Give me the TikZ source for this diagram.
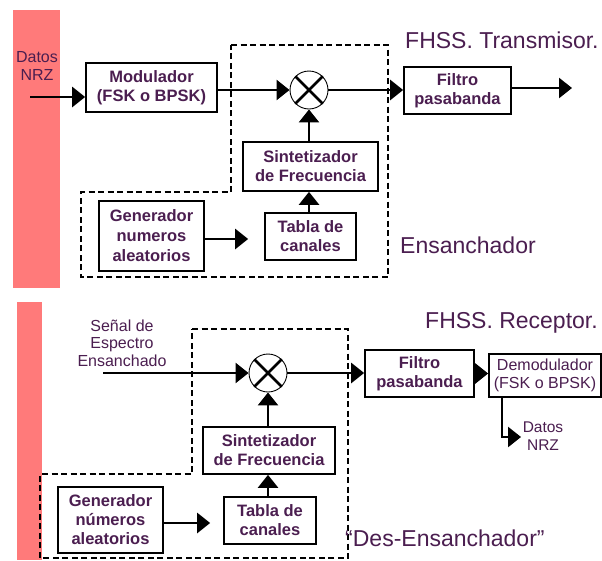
\documentclass[tikz,border=0pt]{standalone}
\usepackage{fontspec}
\setmainfont{Liberation Sans}
\usetikzlibrary{arrows.meta}
\definecolor{txt}{RGB}{75,30,80}
\definecolor{bar}{RGB}{255,122,122}
\begin{document}
\begin{tikzpicture}[x=1pt,y=-1pt,
  blk/.style={draw=black,line width=1.7pt,fill=white,align=center,inner sep=0pt,
    text=txt,font=\bfseries\fontsize{16.5}{19}\selectfont},
  plain/.style={align=center,inner sep=0pt,text=txt,font=\fontsize{16}{17.5}\selectfont},
  title/.style={anchor=west,inner sep=0pt,text=txt,font=\fontsize{23}{26}\selectfont},
  mixer/.style={circle,draw=black,line width=0.9pt,minimum size=38pt,inner sep=0pt},
  sig/.style={line width=2.6pt,-{Triangle[length=13pt,width=20pt]}},
  zone/.style={draw=black,line width=2.2pt,dash pattern=on 6pt off 3.5pt}]
\useasboundingbox (0,0) rectangle (602,560);
\fill[white] (0,0) rectangle (602,560);

% ---------------- transmitter ----------------
\fill[bar] (13,10) rectangle (60,288);
\node[plain] (din) at (37,66) {Datos\\NRZ};
\coordinate (in1) at (30,97);

\draw[zone] (231,45) -- (388,45) -- (388,277) -- (81,277) -- (81,192) -- (231,192) -- cycle;

\node[blk,minimum width=131pt,minimum height=49pt] (mod) at (151.5,87.5) {Modulador\\(FSK o BPSK)};
\node[mixer] (mix1) at (309,90) {};
\draw[line width=2.6pt] (mix1.north west) -- (mix1.south east) (mix1.north east) -- (mix1.south west);
\node[blk,minimum width=107pt,minimum height=47pt] (filt1) at (457.5,90.5) {Filtro\\pasabanda};
\node[blk,minimum width=135pt,minimum height=49pt] (sint1) at (310.5,166.5) {Sintetizador\\de Frecuencia};
\node[blk,minimum width=91pt,minimum height=47pt] (tab1) at (310.5,236.5) {Tabla de\\canales};
\node[blk,minimum width=105pt,minimum height=70pt,font=\bfseries\fontsize{16.5}{20}\selectfont] (gen1) at (151.5,236) {Generador\\numeros\\aleatorios};
\coordinate (out1) at (572,88);

\draw[sig] (in1) -- (in1 -| mod.west);
\draw[sig] (mod.east |- mix1) -- (mix1.west);
\draw[sig] (mix1.east) -- (mix1 -| filt1.west);
\draw[sig] (filt1.east |- out1) -- (out1);
\draw[sig] (sint1.north -| mix1) -- (mix1.south);
\draw[sig] (tab1.north -| mix1) -- (sint1.south -| mix1);
\draw[sig,shorten >=16pt] (gen1.east |- 0,239) -- (tab1.west |- 0,239);

\node[title] (ttx) at (405,40) {FHSS. Transmisor.};
\node[title] (ens) at (400,245) {Ensanchador};

% ---------------- receiver ----------------
\fill[bar] (17,302) rectangle (42,560);
\node[plain] (sin) at (122,343) {Señal de\\Espectro\\Ensanchado};
\coordinate (in2) at (103,373);

\draw[zone] (192,329) -- (348,329) -- (348,558) -- (40,558) -- (40,474) -- (192,474) -- cycle;

\node[mixer] (mix2) at (268,373) {};
\draw[line width=2.6pt] (mix2.north west) -- (mix2.south east) (mix2.north east) -- (mix2.south west);
\node[blk,minimum width=109pt,minimum height=47pt] (filt2) at (419.5,373.5) {Filtro\\pasabanda};
\node[blk,minimum width=112pt,minimum height=43pt,font=\fontsize{16}{18.5}\selectfont] (demod) at (545,375.5) {Demodulador\\(FSK o BPSK)};
\node[blk,minimum width=132pt,minimum height=47pt] (sint2) at (269,450.5) {Sintetizador\\de Frecuencia};
\node[blk,minimum width=92pt,minimum height=47pt] (tab2) at (270,520.5) {Tabla de\\canales};
\node[blk,minimum width=105pt,minimum height=66pt,font=\bfseries\fontsize{16.5}{19}\selectfont] (gen2) at (110.5,520) {Generador\\números\\aleatorios};
\coordinate (dout) at (521,437);
\node[plain,font=\fontsize{15.5}{18}\selectfont] (dnrz) at (543,436) {Datos\\NRZ};

\draw[sig] (in2) -- (mix2.west);
\draw[sig] (mix2.east) -- (mix2 -| filt2.west);
\draw[sig] (filt2.east) -- (filt2.east -| demod.west);
\draw[sig] ([xshift=14pt]demod.south west) |- (dout);
\draw[sig] (sint2.north -| mix2) -- (mix2.south);
\draw[sig] (tab2.north -| mix2) -- (sint2.south -| mix2);
\draw[sig,shorten >=13pt] (gen2.east |- 0,523) -- (tab2.west |- 0,523);

\node[title] (trx) at (425,323) {FHSS. Receptor.};
\node[title] (des) at (345,538) {“Des-Ensanchador”};
\end{tikzpicture}
\end{document}
